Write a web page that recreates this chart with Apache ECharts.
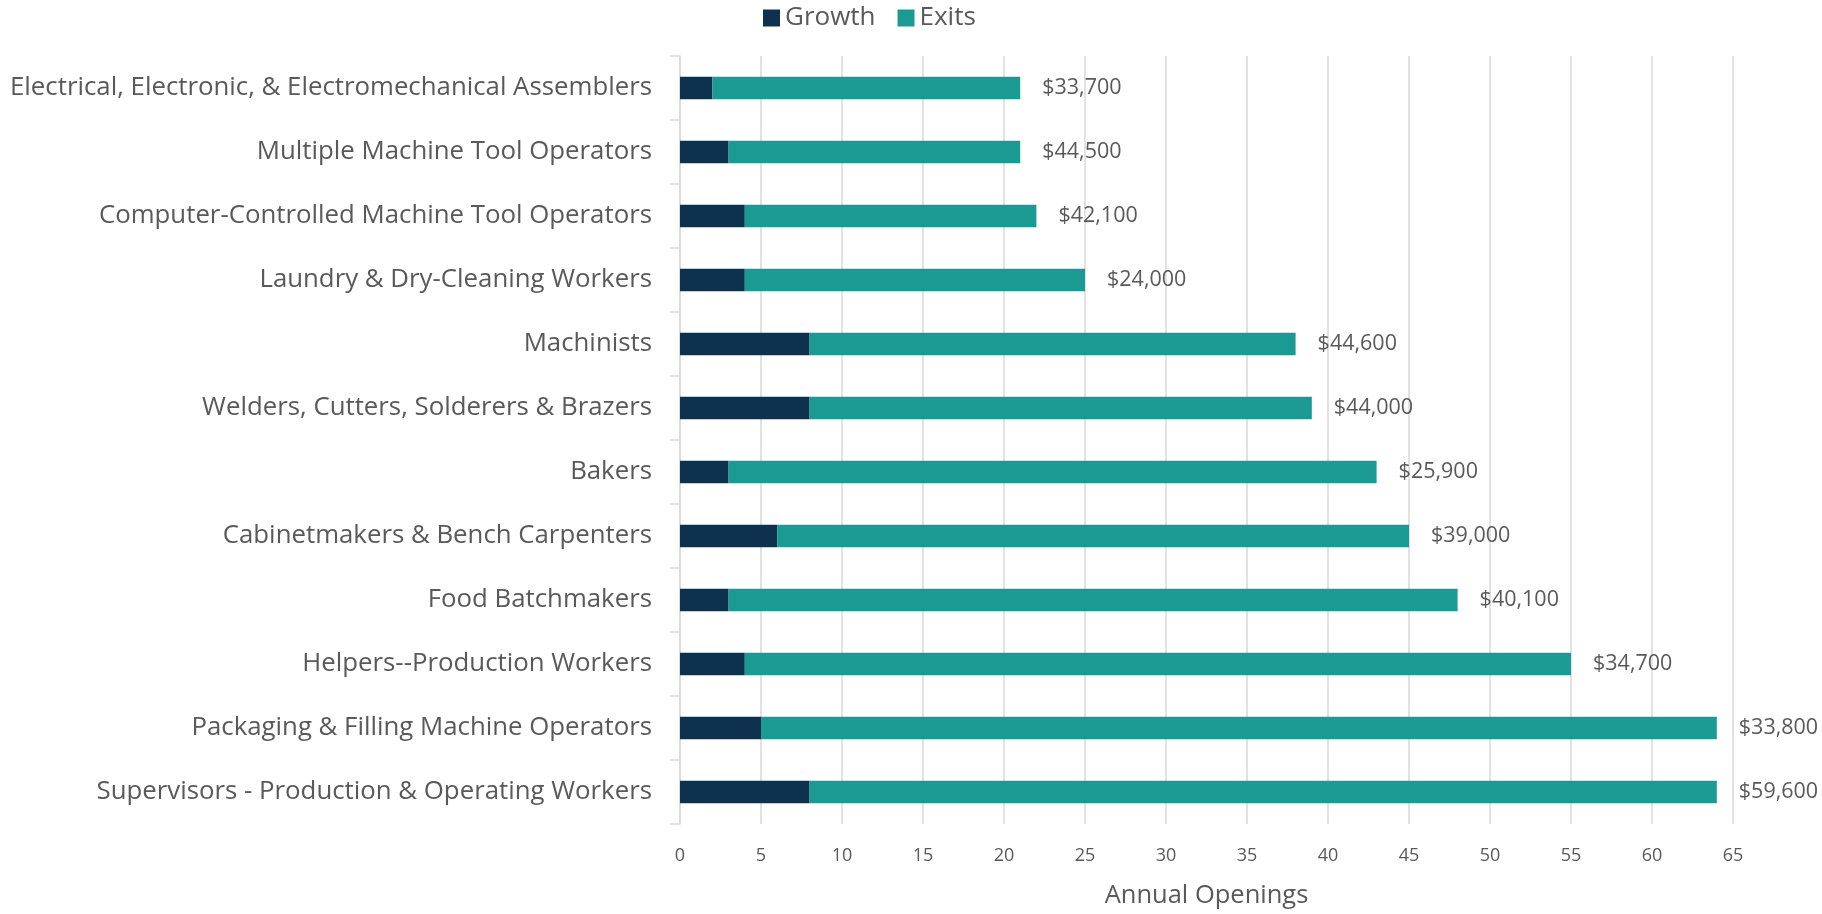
<!doctype html>
<html>
<head>
<meta charset="utf-8">
<title>Annual Openings</title>
<script src="https://cdn.jsdelivr.net/npm/echarts@6/dist/echarts.min.js"></script>
<style>
html,body{margin:0;padding:0;background:#fff;}
#chart{width:1822px;height:914px;}
</style>
</head>
<body>
<div id="chart"></div>
<script>
// occupations, top to bottom
var occupations = [
	'Electrical, Electronic, & Electromechanical Assemblers',
	'Multiple Machine Tool Operators',
	'Computer-Controlled Machine Tool Operators',
	'Laundry & Dry-Cleaning Workers',
	'Machinists',
	'Welders, Cutters, Solderers & Brazers',
	'Bakers',
	'Cabinetmakers & Bench Carpenters',
	'Food Batchmakers',
	'Helpers--Production Workers',
	'Packaging & Filling Machine Operators',
	'Supervisors - Production & Operating Workers'
];
var growth = [2, 3, 4, 4, 8, 8, 3, 6, 3, 4, 5, 8];
var exits  = [19, 18, 18, 21, 30, 31, 40, 39, 45, 51, 59, 56];
var wages  = ['$33,700', '$44,500', '$42,100', '$24,000', '$44,600', '$44,000',
              '$25,900', '$39,000', '$40,100', '$34,700', '$33,800', '$59,600'];

var textColor = '#595959';
var font = 'Open Sans';

var chart = echarts.init(document.getElementById('chart'));
chart.setOption({
	animation: false,
	color: ['#0e3150', '#1b9a93'],
	legend: {
		top: 0,
		left: 758,
		itemWidth: 17,
		itemHeight: 17,
		itemGap: 22,
		icon: 'rect',
		textStyle: {color: textColor, fontSize: 26, fontFamily: font},
		data: ['Growth', 'Exits']
	},
	grid: {
		left: 680,
		right: 89,
		top: 56,
		bottom: 87
	},
	xAxis: {
		type: 'value',
		min: 0,
		max: 65,
		interval: 5,
		name: 'Annual Openings',
		nameLocation: 'middle',
		nameGap: 59,
		nameTextStyle: {color: textColor, fontSize: 25.5, fontFamily: font},
		axisLine: {show: false},
		axisTick: {show: false},
		axisLabel: {color: textColor, fontSize: 18, fontFamily: font, margin: 23},
		splitLine: {lineStyle: {color: '#d9d9d9', width: 1.5}}
	},
	yAxis: {
		type: 'category',
		inverse: true,
		data: occupations,
		axisLine: {lineStyle: {color: '#d9d9d9', width: 1.5}},
		axisTick: {show: true, length: 10, lineStyle: {color: '#d9d9d9', width: 1.5}},
		axisLabel: {color: textColor, fontSize: 25.8, fontFamily: font, margin: 28, padding: [4, 0, 0, 0]}
	},
	series: [
		{
			name: 'Growth',
			type: 'bar',
			stack: 'total',
			barWidth: '35%',
			data: growth
		},
		{
			name: 'Exits',
			type: 'bar',
			stack: 'total',
			barWidth: '35%',
			data: exits,
			label: {
				show: true,
				position: 'right',
				distance: 22,
				color: textColor,
				fontSize: 21.5,
				fontFamily: font,
				padding: [4, 0, 0, 0],
				formatter: function(p){ return wages[p.dataIndex]; }
			}
		}
	]
});
</script>
</body>
</html>
